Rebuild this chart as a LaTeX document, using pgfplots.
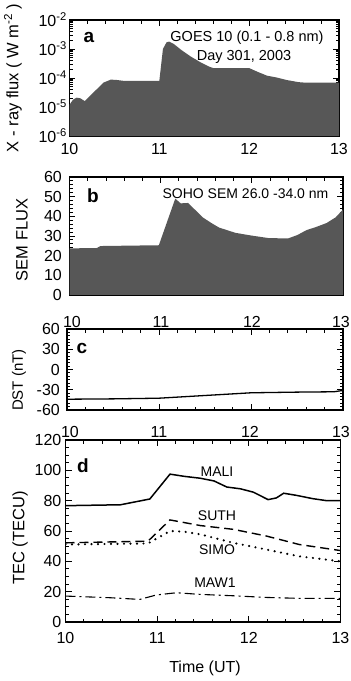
\documentclass[border=0pt]{standalone}
\usepackage{fontspec}
\setmainfont{Liberation Sans}
\usepackage{pgfplots}
\pgfplotsset{compat=1.18}
\newcommand{\fs}[1]{\fontsize{#1}{#1}\selectfont}
\pgfplotsset{
 panel/.style={
   scale only axis, xmin=10, xmax=13, xtick={10,11,12,13}, minor x tick num=4,
   xtick pos=both, ytick pos=both, tick align=inside,
   axis line style={line width=1.4pt},
   tick style={line width=0.9pt, black},
   major tick length=6pt, minor tick length=3.5pt,
   tick label style={font=\fs{16}},
   xticklabels={},
   anchor=north west,
 }}
\definecolor{fillgray}{gray}{0.34}
\begin{document}
\begin{tikzpicture}
\useasboundingbox (0,0) rectangle (351pt,-681pt);
% ---------------- panel a
\begin{axis}[panel, at={(69.5pt,-20pt)}, width=269.5pt, height=116pt,
  ymode=log, ymin=1e-6, ymax=1e-2, ytick={1e-6,1e-5,1e-4,1e-3,1e-2},
  minor ytick={2e-6,3e-6,4e-6,5e-6,6e-6,7e-6,8e-6,9e-6,2e-5,3e-5,4e-5,5e-5,6e-5,7e-5,8e-5,9e-5,2e-4,3e-4,4e-4,5e-4,6e-4,7e-4,8e-4,9e-4,2e-3,3e-3,4e-3,5e-3,6e-3,7e-3,8e-3,9e-3},
  yticklabels={10\textsuperscript{-6},10\textsuperscript{-5},10\textsuperscript{-4},10\textsuperscript{-3},10\textsuperscript{-2}},
  xticklabels={10,11,12,13},
  xticklabel style={inner sep=0pt, yshift=-7pt},
  yticklabel style={inner sep=0pt, xshift=-2.5pt}]
\addplot[fill=fillgray, draw=none] coordinates {
(10.00,1e-6) (10.00,1.2e-5) (10.04,1.8e-5) (10.08,2.1e-5) (10.12,2.0e-5) (10.17,1.6e-5)
(10.22,2.3e-5) (10.30,4.0e-5) (10.38,7.0e-5) (10.46,8.8e-5) (10.52,8.6e-5) (10.60,8.0e-5)
(11.00,8.0e-5) (11.01,1.5e-4) (11.04,1.0e-3) (11.08,1.7e-3) (11.11,1.8e-3) (11.16,1.5e-3)
(11.25,9e-4) (11.35,5.5e-4) (11.45,3.6e-4) (11.55,2.5e-4) (11.60,2.2e-4) (12.00,2.2e-4)
(12.10,1.6e-4) (12.20,1.2e-4) (12.30,1.05e-4) (12.42,8.5e-5) (12.55,7.2e-5) (12.60,7.0e-5)
(13.00,7.0e-5) (13.00,1e-6)};
\end{axis}
% ---------------- panel b
\begin{axis}[panel, at={(69.5pt,-177pt)}, width=273.5pt, height=118pt,
  ymin=0, ymax=60, ytick={0,10,20,30,40,50,60}, minor y tick num=4,
  yticklabels={0,10,20,30,40,50,60},
  yticklabel style={inner sep=0pt, xshift=-7.5pt}]
\addplot[fill=fillgray, draw=none] coordinates {
(10.00,0) (10.00,23.7) (10.30,23.9) (10.34,24.9) (10.98,25.3) (11.16,49.0) (11.22,46.6)
(11.30,46.8) (11.38,43.2) (11.46,39.5) (11.56,36.5) (11.64,34.3) (11.82,31.6) (12.00,30.2)
(12.19,28.9) (12.40,28.8) (12.50,30.5) (12.60,33.0) (12.70,34.5) (12.82,36.6) (12.92,39.5)
(13.00,43.5) (13.00,0)};
\end{axis}
% ---------------- panel c
\begin{axis}[panel, at={(67pt,-329pt)}, width=276pt, height=81pt,
  ymin=-60, ymax=60, ytick={-60,-30,0,30,60}, minor y tick num=5,
  yticklabels={-60,-30,0,30,60},
  yticklabel style={inner sep=0pt, xshift=-7pt}]
\addplot[black, line width=1.3pt] coordinates {
(10,-44) (10.5,-43.5) (11,-42.5) (11.5,-38.5) (12,-34.5) (12.5,-33.5) (12.9,-33) (13,-31)};
\end{axis}
% ---------------- panel d
\begin{axis}[panel, at={(65.5pt,-440pt)}, width=275pt, height=182pt,
  ymin=0, ymax=120, ytick={0,20,40,60,80,100,120}, minor y tick num=3,
  yticklabels={0,20,40,60,80,100,120},
  xticklabels={10,11,12,13},
  xticklabel style={inner sep=0pt, yshift=-10pt},
  yticklabel style={inner sep=0pt, xshift=-4pt}]
\addplot[black, line width=1.5pt] coordinates {
(10,76.7) (10.3,77) (10.6,77.3) (10.92,81.1) (11.14,97.5) (11.3,96) (11.47,94.8) (11.62,93)
(11.69,91) (11.76,89) (11.91,87.8) (12.05,85.6) (12.21,80.7) (12.30,81.8) (12.38,84.9)
(12.52,83.5) (12.70,81.3) (12.85,80) (13,80)};
\addplot[black, line width=1.4pt, dash pattern=on 9pt off 5pt] coordinates {
(10,52.2) (10.9,53.3) (11.14,67.3) (11.47,63.6) (11.83,61.1) (12.19,56.7) (12.55,51.1) (13,47.1)};
\addplot[black, line width=2.4pt, line cap=round, dash pattern=on 0pt off 6.5pt] coordinates {
(10,51.1) (10.9,51.8) (11.14,60) (11.3,59.5) (11.47,57.8) (11.83,52.2) (12.19,47.8) (12.55,43.3) (13,40)};
\addplot[black, line width=1.1pt, dash pattern=on 10pt off 4pt on 2pt off 4pt] coordinates {
(10,17.1) (10.49,16) (10.81,14.9) (10.99,17.8) (11.21,19.3) (11.47,18.2) (11.83,17.3)
(12.19,16.2) (12.55,15.6) (13,15.6)};
\end{axis}
% ---------------- top tick labels of panels c and d
\foreach \t/\x in {10/72,11/161,12/252,13/341}
  \node[anchor=south, inner sep=1.5pt, font=\fs{16}] at (\x pt,-329pt) {\t};
\foreach \t/\x in {10/70,11/159,12/250,13/341}
  \node[anchor=south, inner sep=2pt, font=\fs{16}] at (\x pt,-440pt) {\t};
% ---------------- axis labels
\node[rotate=90, font=\fs{16.5}] at (13pt,-78pt) {X - ray flux ( W m\textsuperscript{-2} )};
\node[rotate=90, font=\fs{16.5}] at (22pt,-240pt) {SEM FLUX};
\node[rotate=90, font=\fs{15}] at (19pt,-380pt) {DST (nT)};
\node[rotate=90, font=\fs{16.5}] at (20pt,-538pt) {TEC (TECU)};
\node[font=\fs{16}] at (205pt,-668pt) {Time (UT)};
% ---------------- panel letters and annotations
\node[anchor=base, font=\fs{19}\bfseries] at (89pt,-42pt) {a};
\node[anchor=base, font=\fs{19}\bfseries] at (93pt,-202pt) {b};
\node[anchor=base, font=\fs{19}\bfseries] at (82pt,-353pt) {c};
\node[anchor=base, font=\fs{19}\bfseries] at (83pt,-472pt) {d};
\node[anchor=base, font=\fs{14.5}] at (247pt,-41.5pt) {GOES 10 (0.1 - 0.8 nm)};
\node[anchor=base, font=\fs{14.5}] at (244pt,-60pt) {Day 301, 2003};
\node[anchor=base, font=\fs{14}] at (245.5pt,-198.5pt) {SOHO SEM 26.0 -34.0 nm};
\node[anchor=base, font=\fs{14}] at (217pt,-476pt) {MALI};
\node[anchor=base, font=\fs{14}] at (217pt,-520pt) {SUTH};
\node[anchor=base, font=\fs{14}] at (217pt,-554pt) {SIMO};
\node[anchor=base, font=\fs{14}] at (215pt,-587pt) {MAW1};
\end{tikzpicture}
\end{document}
